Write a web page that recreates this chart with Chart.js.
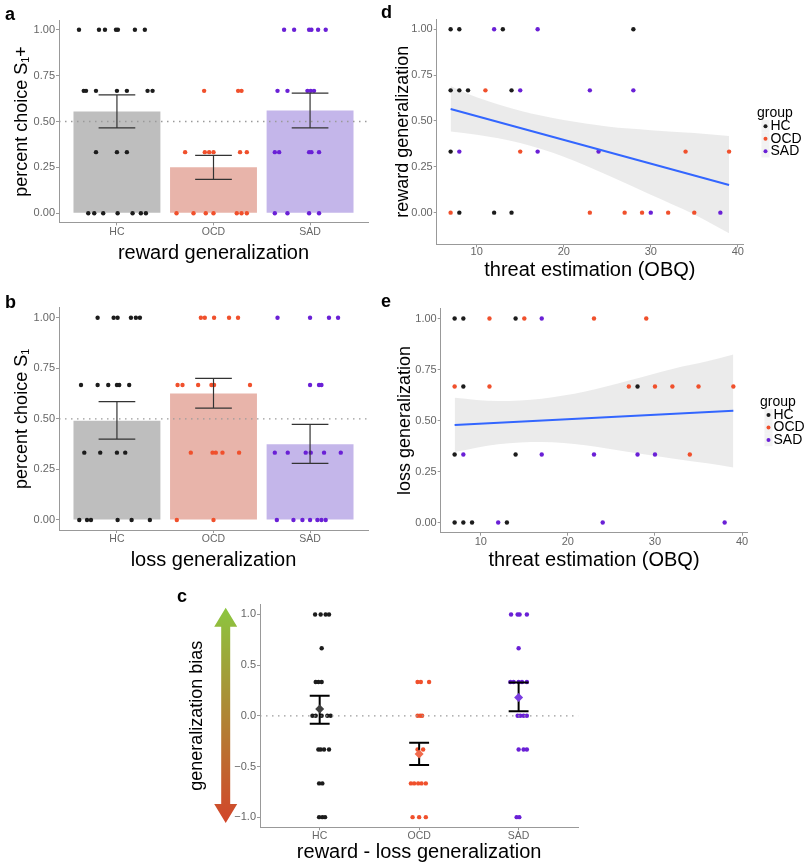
<!DOCTYPE html>
<html>
<head>
<meta charset="utf-8">
<script src="https://cdn.jsdelivr.net/npm/chart.js@4"></script>
<style>
  body { margin: 0; background: #fff; width: 806px; height: 867px; position: relative; overflow: hidden; }
  canvas { position: absolute; }
  .tag { position: absolute; z-index: 2; font: bold 18px "Liberation Sans", Arial, sans-serif; line-height: 18px; }
</style>
</head>
<body>
<canvas id="chartA" width="400" height="270" style="left:0;top:0"></canvas>
<canvas id="chartB" width="400" height="295" style="left:0;top:280px"></canvas>
<canvas id="chartD" width="421" height="285" style="left:385px;top:0"></canvas>
<canvas id="chartE" width="421" height="295" style="left:385px;top:280px"></canvas>
<canvas id="chartC" width="450" height="282" style="left:150px;top:585px"></canvas>
<div class="tag" style="left:5px;top:5px">a</div>
<div class="tag" style="left:5px;top:293px">b</div>
<div class="tag" style="left:381px;top:3px">d</div>
<div class="tag" style="left:381px;top:292px">e</div>
<div class="tag" style="left:177px;top:587px">c</div>
<script>
const FONT = '"Liberation Sans", Arial, sans-serif';

const groups = ["HC", "OCD", "SAD"];
const pointColors = ["#1c1c1c", "#f0502c", "#6a20d6"];
const barColors = ["#bebebe", "#e8b4aa", "#c4b6ea"];
const diamondColors = ["#404040", "#f06a4c", "#7a3ce0"];

const catMin = 0.4, catMax = 3.6;
const ticksAB = [0, 0.25, 0.5, 0.75, 1];
const ticksC = [-1, -0.5, 0, 0.5, 1];
const ticksDE = [0, 0.25, 0.5, 0.75, 1];
const ticksOBQ = [10, 20, 30, 40];

// a: reward generalization (jittered x, value)
const rewardMean = [0.555, 0.25, 0.56];
const rewardLo = [0.465, 0.185, 0.465];
const rewardHi = [0.645, 0.315, 0.655];
const rewardHC = [[0.607,1],[0.814,1],[0.876,1],[0.99,1],[1.01,1],[1.186,1],[1.289,1],
  [0.656,0.667],[0.68,0.667],[0.783,0.667],[1.0,0.667],[1.103,0.667],[1.317,0.667],[1.369,0.667],
  [0.783,0.333],[1.0,0.333],[1.103,0.333],
  [0.703,0],[0.765,0],[0.858,0],[1.007,0],[1.162,0],[1.248,0],[1.3,0]];
const rewardOCD = [[1.903,0.667],[2.255,0.667],[2.29,0.667],
  [1.706,0.333],[1.91,0.333],[1.955,0.333],[2.0,0.333],[2.275,0.333],[2.345,0.333],
  [1.617,0],[1.793,0],[1.92,0],[2.0,0],[2.241,0],[2.29,0],[2.345,0]];
const rewardSAD = [[2.731,1],[2.835,1],[2.99,1],[3.014,1],[3.083,1],[3.162,1],
  [2.663,0.667],[2.766,0.667],[2.973,0.667],[3.007,0.667],[3.041,0.667],
  [2.635,0.333],[2.68,0.333],[2.99,0.333],[3.014,0.333],[3.093,0.333],
  [2.635,0],[2.766,0],[2.99,0],[3.093,0]];

// b: loss generalization
const lossMean = [0.49, 0.625, 0.375];
const lossLo = [0.40, 0.553, 0.28];
const lossHi = [0.585, 0.70, 0.473];
const lossHC = [[0.8,1],[0.966,1],[1.007,1],[1.145,1],[1.196,1],[1.238,1],
  [0.628,0.667],[0.8,0.667],[0.91,0.667],[1.0,0.667],[1.024,0.667],[1.127,0.667],
  [0.662,0.333],[0.827,0.333],[1.0,0.333],[1.086,0.333],
  [0.61,0],[0.69,0],[0.731,0],[1.007,0],[1.152,0],[1.341,0]];
const lossOCD = [[1.869,1],[1.91,1],[2.006,1],[2.161,1],[2.254,1],
  [1.628,0.667],[1.679,0.667],[1.841,0.667],[1.979,0.667],[2.006,0.667],[2.378,0.667],
  [1.765,0.333],[1.99,0.333],[2.024,0.333],[2.093,0.333],[2.265,0.333],
  [1.62,0],[2.0,0]];
const lossSAD = [[2.663,1],[3.0,1],[3.196,1],[3.29,1],
  [3.0,0.667],[3.093,0.667],[3.118,0.667],
  [2.635,0.333],[2.769,0.333],[2.955,0.333],[3.007,0.333],[3.145,0.333],[3.318,0.333],
  [2.656,0],[2.828,0],[2.921,0],[3.0,0],[3.076,0],[3.118,0],[3.162,0]];

// c: reward - loss generalization
const biasMean = [0.066, -0.377, 0.181];
const biasLo = [-0.079, -0.485, 0.046];
const biasHi = [0.197, -0.265, 0.328];
const biasHC = [[0.954,1],[1.01,1],[1.06,1],[1.094,1],[1.02,0.667],
  [0.96,0.333],[0.987,0.333],[1.02,0.333],
  [0.927,0],[0.96,0],[1.02,0],[1.077,0],[1.11,0],
  [0.987,-0.333],[1.01,-0.333],[1.044,-0.333],[1.094,-0.333],
  [0.994,-0.667],[1.027,-0.667],
  [0.994,-1],[1.027,-1],[1.054,-1]];
const biasOCD = [[1.984,0.333],[2.017,0.333],[2.1,0.333],
  [1.984,0],[2.01,0],[2.03,0],
  [1.984,-0.333],[2.04,-0.333],
  [1.917,-0.667],[1.95,-0.667],[1.99,-0.667],[2.024,-0.667],[2.067,-0.667],
  [1.934,-1],[2.0,-1],[2.067,-1]];
const biasSAD = [[2.924,1],[2.99,1],[3.01,1],[3.083,1],[3.0,0.667],
  [2.917,0.333],[2.95,0.333],[3.0,0.333],[3.034,0.333],[3.083,0.333],
  [2.99,0],[3.017,0],[3.05,0],[3.083,0],
  [3.0,-0.333],[3.05,-0.333],[3.083,-0.333],
  [2.98,-1],[3.007,-1]];

// d: reward generalization vs threat estimation (OBQ)
const obqRewardHC = [[7,1],[8,1],[13,1],[28,1],[7,0.667],[8,0.667],[9,0.667],[14,0.667],[7,0.333],[8,0],[12,0],[14,0]];
const obqRewardOCD = [[11,0.667],[15,0.333],[34,0.333],[39,0.333],[7,0],[23,0],[27,0],[29,0],[32,0],[35,0]];
const obqRewardSAD = [[12,1],[17,1],[15,0.667],[23,0.667],[28,0.667],[8,0.333],[17,0.333],[24,0.333],[30,0],[38,0]];
const fitX = [7, 39];
const rewardFitY = [0.565, 0.151];
const rewardBandX = [7, 10, 15, 20, 25, 30, 35, 39];
const rewardBandHi = [0.691, 0.629, 0.556, 0.505, 0.47, 0.45, 0.434, 0.418];
const rewardBandLo = [0.442, 0.425, 0.38, 0.305, 0.205, 0.098, -0.01, -0.112];

// e: loss generalization vs threat estimation (OBQ)
const obqLossHC = [[7,1],[8,1],[14,1],[8,0.667],[28,0.667],[7,0.333],[14,0.333],[7,0],[8,0],[9,0],[13,0]];
const obqLossOCD = [[11,1],[15,1],[23,1],[29,1],[7,0.667],[11,0.667],[27,0.667],[30,0.667],[32,0.667],[35,0.667],[39,0.667],[34,0.333]];
const obqLossSAD = [[17,1],[8,0.333],[17,0.333],[23,0.333],[28,0.333],[30,0.333],[12,0],[24,0],[38,0]];
const lossFitY = [0.478, 0.548];
const lossBandX = [7, 12, 17, 22, 27, 32, 36, 39];
const lossBandHi = [0.612, 0.595, 0.607, 0.642, 0.696, 0.753, 0.79, 0.823];
const lossBandLo = [0.346, 0.384, 0.395, 0.379, 0.346, 0.314, 0.29, 0.27];

function toXY(pairs) {
  return pairs.map(p => ({ x: p[0], y: p[1] }));
}

function pointSets(sets) {
  return sets.map((pts, i) => ({
    type: "scatter",
    label: groups[i],
    data: toXY(pts),
    pointRadius: 2.2,
    pointBorderWidth: 0,
    pointBackgroundColor: pointColors[i],
    order: 2,
  }));
}

// one line dataset: top cap, stem, bottom cap for each group, split by gaps
function errorBars(lo, hi, half, color, width) {
  const data = [];
  lo.forEach((l, i) => {
    const x = i + 1;
    data.push({ x: x - half, y: hi[i] }, { x: x + half, y: hi[i] }, { x: x, y: null });
    data.push({ x: x, y: hi[i] }, { x: x, y: l }, { x: x, y: null });
    data.push({ x: x - half, y: l }, { x: x + half, y: l }, { x: x, y: null });
  });
  return {
    type: "line", data: data, borderColor: color, borderWidth: width,
    pointRadius: 0, spanGaps: false, order: 1,
  };
}

function refLine(y) {
  return {
    type: "line",
    data: [{ x: catMin, y: y }, { x: catMax, y: y }],
    borderColor: "#9a9a9a", borderWidth: 1.3, borderDash: [1.5, 4.5],
    pointRadius: 0, order: 3,
  };
}

function axis(o) {
  return {
    type: "linear", min: o.min, max: o.max, offset: false,
    afterBuildTicks: (s) => { s.ticks = o.ticks.map((v) => ({ value: v })); },
    afterFit: (s) => {
      if (o.width) s.width = o.width;
      if (o.height) s.height = o.height;
    },
    ticks: {
      font: { family: FONT, size: o.tickSize || 11 },
      color: "#666", padding: o.pad ?? 1, autoSkip: false, maxRotation: 0,
      callback: o.fmt,
    },
    grid: { drawOnChartArea: false, offset: false, tickLength: 3, color: "#999" },
    border: { color: "#999", width: 1 },
    title: {
      display: true, text: o.title, color: "#000",
      font: { family: FONT, size: o.titleSize },
      padding: o.titlePad,
    },
  };
}

const groupName = (v) => groups[v - 1];
const fmt2 = (v) => v.toFixed(2);
const fmt1 = (v) => (v < 0 ? "\u2212" + Math.abs(v).toFixed(1) : v.toFixed(1));

const groupLegend = {
  id: "groupLegend",
  afterDraw(chart, args, opts) {
    if (!opts.show) return;
    const { ctx, chartArea } = chart;
    const x = chartArea.right + opts.dx;
    const cy = (chartArea.top + chartArea.bottom) / 2;
    ctx.save();
    ctx.font = "14px " + FONT;
    ctx.textBaseline = "middle";
    ctx.fillStyle = "#000";
    ctx.fillText("group", x, cy - 18.5);
    groups.forEach((g, i) => {
      const y = cy - 5.5 + i * 12.5;
      ctx.fillStyle = "#f2f2f2";
      ctx.fillRect(x + 4.5, y - 6.25, 8, 12.5);
      ctx.fillStyle = pointColors[i];
      ctx.beginPath();
      ctx.arc(x + 8.5, y, 2, 0, Math.PI * 2);
      ctx.fill();
      ctx.fillStyle = "#000";
      ctx.fillText(g, x + 13.5, y);
    });
    ctx.restore();
  },
};

const biasArrow = {
  id: "biasArrow",
  beforeDatasetsDraw(chart, args, opts) {
    if (!opts.show) return;
    const ctx = chart.ctx;
    const ys = chart.scales.y;
    const top = ys.getPixelForValue(opts.tipTop);
    const bot = ys.getPixelForValue(opts.tipBottom);
    const cx = opts.x, hw = 11.5, hh = 19, sw = 4.5;
    const g = ctx.createLinearGradient(0, top, 0, bot);
    g.addColorStop(0, "#8cc63f");
    g.addColorStop(1, "#d2452a");
    ctx.save();
    ctx.fillStyle = g;
    ctx.beginPath();
    ctx.moveTo(cx, top);
    ctx.lineTo(cx + hw, top + hh);
    ctx.lineTo(cx + sw, top + hh);
    ctx.lineTo(cx + sw, bot - hh);
    ctx.lineTo(cx + hw, bot - hh);
    ctx.lineTo(cx, bot);
    ctx.lineTo(cx - hw, bot - hh);
    ctx.lineTo(cx - sw, bot - hh);
    ctx.lineTo(cx - sw, top + hh);
    ctx.lineTo(cx - hw, top + hh);
    ctx.closePath();
    ctx.fill();
    ctx.restore();
  },
};

Chart.register(groupLegend, biasArrow);

function baseOptions(padding, scales, extra) {
  return {
    responsive: false,
    maintainAspectRatio: false,
    animation: false,
    devicePixelRatio: 1,
    layout: { padding: padding },
    scales: scales,
    plugins: Object.assign({
      legend: { display: false },
      tooltip: { enabled: false },
    }, extra || {}),
  };
}

function barPanel(id, means, lo, hi, sets, yTitle, xTitle, box) {
  new Chart(document.getElementById(id), {
    type: "scatter",
    data: {
      datasets: [
        {
          type: "bar",
          data: means.map((m, i) => ({ x: i + 1, y: m })),
          backgroundColor: barColors,
          barPercentage: 0.9,
          categoryPercentage: 1,
          order: 4,
        },
        refLine(0.5),
        ...pointSets(sets),
        errorBars(lo, hi, 0.19, "#333", 1.2),
      ],
    },
    options: baseOptions(
      { top: box.top, right: box.right, left: 0, bottom: 0 },
      {
        x: axis({ min: catMin, max: catMax, ticks: [1, 2, 3], fmt: groupName, tickSize: 10.5, pad: 0,
          height: box.xHeight, title: xTitle, titleSize: 20, titlePad: { top: 0, bottom: box.xTitlePad } }),
        y: axis({ min: -0.05, max: 1.05, ticks: ticksAB, fmt: fmt2,
          width: 59, title: yTitle, titleSize: 18, titlePad: { top: 11.2, bottom: 0 } }),
      }
    ),
  });
}

barPanel("chartA", rewardMean, rewardLo, rewardHi, [rewardHC, rewardOCD, rewardSAD],
  "percent choice S\u2081+", "reward generalization", { top: 20.6, right: 32, xHeight: 47.6, xTitlePad: 4.7 });
barPanel("chartB", lossMean, lossLo, lossHi, [lossHC, lossOCD, lossSAD],
  "percent choice S\u2081", "loss generalization", { top: 27.6, right: 32, xHeight: 44.9, xTitlePad: 3 });

function obqPanel(id, sets, fitY, bandX, bandHi, bandLo, yMin, yMax, yTitle, box) {
  new Chart(document.getElementById(id), {
    type: "scatter",
    data: {
      datasets: [
        {
          type: "line", data: bandX.map((x, i) => ({ x: x, y: bandHi[i] })),
          borderColor: "rgba(0,0,0,0)", pointRadius: 0, fill: false,
          cubicInterpolationMode: "monotone", order: 5,
        },
        {
          type: "line", data: bandX.map((x, i) => ({ x: x, y: bandLo[i] })),
          borderColor: "rgba(0,0,0,0)", pointRadius: 0, fill: "-1",
          backgroundColor: "rgba(153,153,153,0.2)",
          cubicInterpolationMode: "monotone", order: 5,
        },
        ...pointSets(sets),
        {
          type: "line", data: fitX.map((x, i) => ({ x: x, y: fitY[i] })),
          borderColor: "#3366ff", borderWidth: 2, pointRadius: 0, order: 1,
        },
      ],
    },
    options: baseOptions(
      { top: box.top, right: box.right, left: 0, bottom: 0 },
      {
        x: axis({ min: 5.4, max: 40.6, ticks: ticksOBQ, fmt: (v) => String(v), pad: box.xPad,
          height: box.xHeight, title: "threat estimation (OBQ)", titleSize: 20,
          titlePad: { top: 0, bottom: box.xTitlePad } }),
        y: axis({ min: yMin, max: yMax, ticks: ticksDE, fmt: fmt2,
          width: box.yWidth, title: yTitle, titleSize: 18,
          titlePad: { top: box.yTitlePad, bottom: 0 } }),
      },
      { groupLegend: { show: true, dx: box.legendDx } }
    ),
  });
}

obqPanel("chartD", [obqRewardHC, obqRewardOCD, obqRewardSAD], rewardFitY,
  rewardBandX, rewardBandHi, rewardBandLo, -0.173, 1.056, "reward generalization",
  { top: 19, right: 63, xHeight: 40.6, xTitlePad: 2.5, xPad: -2, yWidth: 51.7, yTitlePad: 6.9, legendDx: 14 });
obqPanel("chartE", [obqLossHC, obqLossOCD, obqLossSAD], lossFitY,
  lossBandX, lossBandHi, lossBandLo, -0.05, 1.05, "loss generalization",
  { top: 28.3, right: 58.7, xHeight: 42.3, xTitlePad: 3, xPad: 0, yWidth: 55.7, yTitlePad: 9.2, legendDx: 12.7 });

new Chart(document.getElementById("chartC"), {
  type: "scatter",
  data: {
    datasets: [
      refLine(0),
      ...pointSets([biasHC, biasOCD, biasSAD]).map((d) => Object.assign(d, { order: 3 })),
      errorBars(biasLo, biasHi, 0.1, "#000", 2),
      {
        type: "scatter",
        data: biasMean.map((m, i) => ({ x: i + 1, y: m })),
        pointStyle: "rectRot",
        pointRadius: 4.5,
        pointBorderWidth: 0,
        pointBackgroundColor: diamondColors,
        order: 0,
      },
    ],
  },
  options: baseOptions(
    { top: 19.3, right: 21.7, left: 0, bottom: 0 },
    {
      x: axis({ min: catMin, max: catMax, ticks: [1, 2, 3], fmt: groupName, tickSize: 10.5, pad: 0,
        height: 39.7, title: "reward - loss generalization", titleSize: 20,
        titlePad: { top: 0, bottom: 2.3 } }),
      y: axis({ min: -1.1, max: 1.1, ticks: ticksC, fmt: fmt1,
        width: 110, title: "generalization bias", titleSize: 18,
        titlePad: { top: 35.9, bottom: 0 } }),
    },
    { biasArrow: { show: true, x: 75.7, tipTop: 1.066, tipBottom: -1.058 } }
  ),
});
</script>
</body>
</html>
